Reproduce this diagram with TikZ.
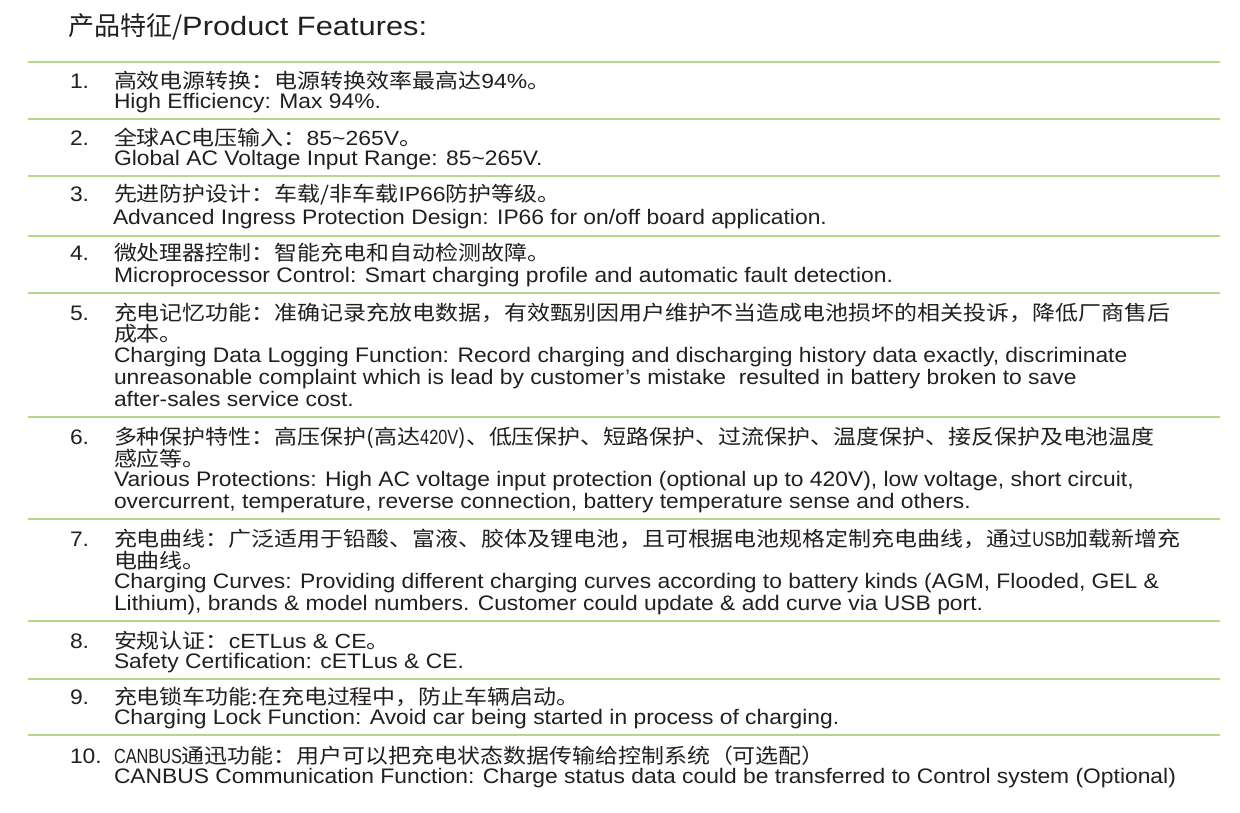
\documentclass[tikz,border=0pt]{standalone}
\usepackage{tikz}
\usepackage{graphicx}
\usepackage{fontspec}
\setmainfont{Liberation Sans}
\newfontfamily\cjk{Noto Sans CJK SC}
\definecolor{sepgreen}{RGB}{180,216,138}
\definecolor{txt}{RGB}{35,31,32}
\newsavebox\tmpbox
\newlength\tmplen
\newcommand\enfont{\fontsize{21}{22}\selectfont}
\newcommand\zhfont{\cjk\fontsize{20.5}{22}\selectfont}
\newcommand\lat[1]{{\rmfamily\fontsize{20.5}{22}\selectfont #1}}
\newcommand\cond[1]{{\rmfamily\fontsize{20.5}{22}\selectfont\scalebox{0.71}[1]{#1}}}
\def\zhsx{1.12}
\newcommand\E[1]{\scalebox{\ensx}[1]{\enfont #1}}
\newcommand\Z[1]{\scalebox{\zhsx}[1]{\zhfont #1}}
\tikzset{
  sepline/.style={draw=sepgreen, line width=2.2pt},
  tx/.style={anchor=base west, inner sep=0pt, outer sep=0pt, text=txt}
}
\begin{document}
\sbox\tmpbox{\enfont CANBUS Communication Function: Charge status data could be transferred to Control system (Optional)}%
\setlength\tmplen{\wd\tmpbox}%
\pgfmathsetmacro\ensx{1062/\tmplen}%
\sbox\tmpbox{\fontsize{26.5}{30}\selectfont Product Features:}%
\setlength\tmplen{\wd\tmpbox}%
\pgfmathsetmacro\titsx{245/\tmplen}%
\begin{tikzpicture}[x=1pt,y=-1pt]
\useasboundingbox (0,0) rectangle (1240,812);
\fill[white] (0,0) rectangle (1240,812);
% separators
\foreach \yy [count=\i] in {62,119.3,176,236,292.7,416.7,519,621,679.3,735}{
  \coordinate (sl\i) at (28,\yy);
  \coordinate (sr\i) at (1220,\yy);
  \draw[sepline] (sl\i) -- (sr\i);
}
% title
\node[tx] (title) at (68,35) {\cjk\fontsize{26}{30}\selectfont 产品特征/\scalebox{\titsx}[1]{\rmfamily\fontsize{26.5}{30}\selectfont Product Features:}};
% item 1
\node[tx] (n1) at (70,88.3) {\E{1.}};
\node[tx] (z1a) at (114,88.3) {\Z{高效电源转换：电源转换效率最高达\lat{94\%}。}};
\node[tx] (e1a) at (114,108.8) {\E{High Efficiency: Max 94\%.}};
% item 2
\node[tx] (n2) at (70,145.3) {\E{2.}};
\node[tx] (z2a) at (114,145.3) {\Z{全球\lat{AC}电压输入：\lat{85\textasciitilde265V}。}};
\node[tx] (e2a) at (114,165.5) {\E{Global AC Voltage Input Range: 85\textasciitilde265V.}};
% item 3
\node[tx] (n3) at (70,201.8) {\E{3.}};
\node[tx] (z3a) at (114,201.8) {\Z{先进防护设计：车载/非车载\lat{IP66}防护等级。}};
\node[tx] (e3a) at (113,224) {\E{Advanced Ingress Protection Design: IP66 for on/off board application.}};
% item 4
\node[tx] (n4) at (70,260.8) {\E{4.}};
\node[tx] (z4a) at (114,260.8) {\Z{微处理器控制：智能充电和自动检测故障。}};
\node[tx] (e4a) at (114,282) {\E{Microprocessor Control: Smart charging profile and automatic fault detection.}};
% item 5
\node[tx] (n5) at (70,320.3) {\E{5.}};
\node[tx] (z5a) at (114,320.3) {\Z{充电记忆功能：准确记录充放电数据，有效甄别因用户维护不当造成电池损坏的相关投诉，降低厂商售后}};
\node[tx] (z5b) at (114,341.8) {\Z{成本。}};
\node[tx] (e5a) at (114,362) {\E{Charging Data Logging Function: Record charging and discharging history data exactly, discriminate}};
\node[tx] (e5b) at (114,384) {\E{unreasonable complaint which is lead by customer’s mistake\ \ resulted in battery broken to save}};
\node[tx] (e5c) at (114,406) {\E{after-sales service cost.}};
% item 6
\node[tx] (n6) at (70,444.8) {\E{6.}};
\node[tx] (z6a) at (114,444.8) {\Z{多种保护特性：高压保护(高达\cond{420V})、低压保护、短路保护、过流保护、温度保护、接反保护及电池温度}};
\node[tx] (z6b) at (114,466.3) {\Z{感应等。}};
\node[tx] (e6a) at (114,486.5) {\E{Various Protections: High AC voltage input protection (optional up to 420V), low voltage, short circuit,}};
\node[tx] (e6b) at (114,508.5) {\E{overcurrent, temperature, reverse connection, battery temperature sense and others.}};
% item 7
\node[tx] (n7) at (70,546.8) {\E{7.}};
\node[tx] (z7a) at (114,546.8) {\Z{充电曲线：广泛适用于铅酸、富液、胶体及锂电池，且可根据电池规格定制充电曲线，通过\cond{USB}加载新增充}};
\node[tx] (z7b) at (114,568.3) {\Z{电曲线。}};
\node[tx] (e7a) at (114,588.5) {\E{Charging Curves: Providing different charging curves according to battery kinds (AGM, Flooded, GEL \&}};
\node[tx] (e7b) at (114,610.5) {\E{Lithium), brands \& model numbers. Customer could update \& add curve via USB port.}};
% item 8
\node[tx] (n8) at (70,648.3) {\E{8.}};
\node[tx] (z8a) at (114,648.3) {\Z{安规认证：\lat{cETLus \& CE}。}};
\node[tx] (e8a) at (114,668.5) {\E{Safety Certification: cETLus \& CE.}};
% item 9
\node[tx] (n9) at (70,704.1) {\E{9.}};
\node[tx] (z9a) at (114,704.1) {\Z{充电锁车功能:在充电过程中，防止车辆启动。}};
\node[tx] (e9a) at (114,724.3) {\E{Charging Lock Function: Avoid car being started in process of charging.}};
% item 10
\node[tx] (n10) at (70,763.5) {\E{10.}};
\node[tx] (z10a) at (114,763.5) {\Z{\cond{CANBUS}通迅功能：用户可以把充电状态数据传输给控制系统（可选配）}};
\node[tx] (e10a) at (114,783) {\E{CANBUS Communication Function: Charge status data could be transferred to Control system (Optional)}};
\end{tikzpicture}
\end{document}
